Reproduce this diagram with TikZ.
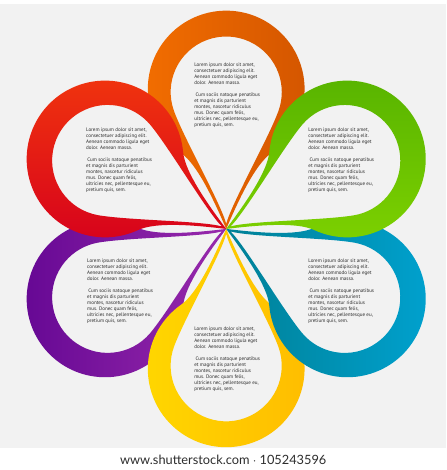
\documentclass[tikz,border=0pt]{standalone}
\usepackage{fontspec}
\setmainfont{PT Sans}
\newfontfamily\sitefont{Lato}
\usepackage{xcolor}

\definecolor{bggray}{RGB}{242,242,242}
\definecolor{textgray}{RGB}{45,45,45}
\definecolor{orangeA}{RGB}{243,110,0}
\definecolor{orangeB}{RGB}{212,86,0}
\definecolor{greenA}{RGB}{124,208,0}
\definecolor{greenB}{RGB}{88,180,0}
\definecolor{blueA}{RGB}{0,128,150}
\definecolor{blueB}{RGB}{0,162,208}
\definecolor{yellowA}{RGB}{255,214,0}
\definecolor{yellowB}{RGB}{255,188,0}
\definecolor{purpleA}{RGB}{152,42,172}
\definecolor{purpleB}{RGB}{102,8,148}
\definecolor{redA}{RGB}{214,0,28}
\definecolor{redB}{RGB}{240,52,14}

\tikzset{
  lorem/.style={font=\fontsize{4.35}{5.15}\selectfont, text=textgray, align=left, inner sep=0pt},
}

% outer teardrop and inner hole of one petal, tip at the origin
\newcommand{\petalpath}{(0,0) .. controls (-12,28) and (-28.9,64.8) .. (-45.3,76.3)
  arc[start angle=235, end angle=-55, radius=79]
  .. controls (28.9,64.8) and (12,28) .. (0,0) -- cycle
  (0,5) .. controls (-5,25) and (-42.3,90.6) .. (-52.6,118.8)
  arc[start angle=200, end angle=-20, radius=56]
  .. controls (42.3,90.6) and (5,25) .. (0,5) -- cycle}

\newcommand{\petal}[2]{%
  \begin{scope}[shift={(228,243)}, rotate=#1-90]
    \shade[even odd rule, #2] \petalpath;
  \end{scope}}

\newcommand{\loremtext}{Lorem ipsum dolor sit amet,\\consectetuer adipiscing elit.\\Aenean commodo ligula eget\\dolor. Aenean massa.\\[5.2pt]
\hspace{1pt}Cum sociis natoque penatibus\\et magnis dis parturient\\montes, nascetur ridiculus\\mus. Donec quam felis,\\ultricies nec, pellentesque eu,\\pretium quis, sem.}

\begin{document}
\begin{tikzpicture}[x=0.03cm, y=0.03cm]
  % background
  \fill[white] (0,0) rectangle (450,470);
  \fill[bggray] (0,22) rectangle (450,470);

  % petals
  \petal{90}{left color=orangeA, right color=orangeB}
  \petal{210}{left color=purpleB, right color=purpleA}
  \petal{-90}{left color=yellowA, right color=yellowB}
  \petal{-30}{left color=blueA, right color=blueB}
  \petal{150}{top color=redB, bottom color=redA}
  \petal{30}{top color=greenB, bottom color=greenA}

  % texts
  \node[lorem] (torange) at (229,378) {\loremtext};
  \node[lorem] (tgreen) at (344,312) {\loremtext};
  \node[lorem] (tblue) at (344,180) {\loremtext};
  \node[lorem] (tyellow) at (229,112) {\loremtext};
  \node[lorem] (tpurple) at (121,180) {\loremtext};
  \node[lorem] (tred) at (120,312) {\loremtext};

  \node[font=\sitefont\fontsize{11}{12}\selectfont, text=textgray] (site) at (225,10) {www.shutterstock.com $\cdot$ 105243596};
\end{tikzpicture}
\end{document}
